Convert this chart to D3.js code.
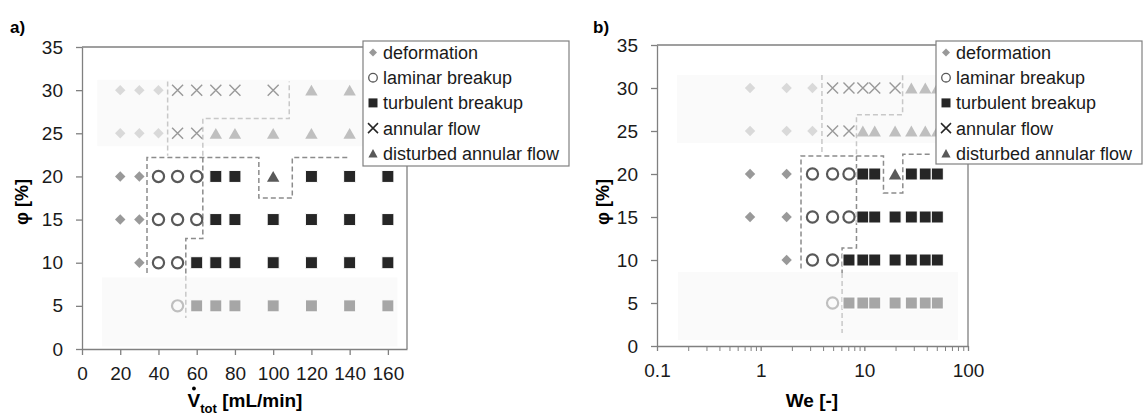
<!DOCTYPE html>
<html>
<head>
<meta charset="utf-8">
<script src="https://cdn.jsdelivr.net/npm/d3@7"></script>
<style>
body { margin: 0; background: #fff; }
svg { display: block; font-family: 'Liberation Sans', Arial, sans-serif; }
</style>
</head>
<body>
<svg id="chart" width="1143" height="419"></svg>
<script>
// flow rates [mL/min] and the matching Weber numbers, same order
var flowRates = [20, 30, 40, 50, 60, 70, 80, 100, 120, 140, 160];
var weberNumbers = [0.79, 1.78, 3.16, 4.94, 7.11, 9.68, 12.6, 19.8, 28.4, 38.7, 50.6];
var phiLevels = [30, 25, 20, 15, 10, 5];

// regime seen at each flow rate, one list per phi level
// de = deformation, lb = laminar breakup, tb = turbulent breakup,
// af = annular flow, da = disturbed annular flow
var regimes30 = ['de', 'de', 'de', 'af', 'af', 'af', 'af', 'af', 'da', 'da', 'da'];
var regimes25 = ['de', 'de', 'de', 'af', 'af', 'da', 'da', 'da', 'da', 'da', 'da'];
var regimes20 = ['de', 'de', 'lb', 'lb', 'lb', 'tb', 'tb', 'da', 'tb', 'tb', 'tb'];
var regimes15 = ['de', 'de', 'lb', 'lb', 'lb', 'tb', 'tb', 'tb', 'tb', 'tb', 'tb'];
var regimes10 = [null, 'de', 'lb', 'lb', 'tb', 'tb', 'tb', 'tb', 'tb', 'tb', 'tb'];
var regimes5 = [null, null, null, 'lb', 'tb', 'tb', 'tb', 'tb', 'tb', 'tb', 'tb'];

var legendCodes = ['de', 'lb', 'tb', 'af', 'da'];
var legendNames = ['deformation', 'laminar breakup', 'turbulent breakup', 'annular flow', 'disturbed annular flow'];

var phiTicks = [0, 5, 10, 15, 20, 25, 30, 35];
var flowTicks = [0, 20, 40, 60, 80, 100, 120, 140, 160];
var weTicks = [0.1, 1, 10, 100];
var weMinorTicks = [0.2, 0.3, 0.4, 0.5, 0.6, 0.7, 0.8, 0.9, 2, 3, 4, 5, 6, 7, 8, 9, 20, 30, 40, 50, 60, 70, 80, 90];

// regime borders drawn by hand in the original, [x, phi] in data units
var flowBordersDark = [
    [[34, 8.8], [34, 22.2], [92.5, 22.2], [92.5, 17.5], [110, 17.5], [110, 22.2], [140, 22.2]],
    [[63.2, 22.2], [63.2, 12.8], [54.3, 12.8], [54.3, 8.5]]
];
var flowBordersLight = [
    [[44.8, 31], [44.8, 22.4]],
    [[63.2, 22.4], [63.2, 26.7], [108.4, 26.7], [108.4, 31]],
    [[54.3, 8.5], [54.3, 3.6]]
];
var weBordersDark = [
    [[2.45, 9], [2.45, 22.1], [15.3, 22.1], [15.3, 17.8], [23.5, 17.8], [23.5, 22.3], [45, 22.3]],
    [[8.4, 22.1], [8.4, 11.4], [6.1, 11.4], [6.1, 8.5]]
];
var weBordersLight = [
    [[3.9, 31.5], [3.9, 22.3]],
    [[8.4, 22.3], [8.4, 26.9], [23.4, 26.9], [23.4, 31.5]],
    [[6.1, 8.5], [6.1, 1.5]]
];

// faint shaded bands behind the faded rows: [x0, x1, phi0, phi1]
var flowBands = [[8, 165, 23.5, 31.2], [10.5, 165, 0.3, 8.3]];
var weBands = [[0.156, 80, 23.6, 31.5], [0.159, 80, 0.7, 8.6]];

var svg = d3.select('#chart');

function markerPath(code, legend) {
    var s, h, w;
    if (code === 'de') {
        h = legend ? 4 : 5.2;
        return 'M0,' + (-h) + 'L' + h + ',0L0,' + h + 'L' + (-h) + ',0Z';
    }
    if (code === 'lb') {
        s = legend ? 4.3 : 5.6;
        return 'M' + s + ',0A' + s + ',' + s + ' 0 1 1 ' + (-s) + ',0A' + s + ',' + s + ' 0 1 1 ' + s + ',0Z';
    }
    if (code === 'tb') {
        s = legend ? 4.5 : 6;
        return 'M' + (-s) + ',' + (-s) + 'H' + s + 'V' + s + 'H' + (-s) + 'Z';
    }
    if (code === 'af') {
        s = legend ? 5 : 5.5;
        return 'M' + (-s) + ',' + (-s) + 'L' + s + ',' + s + 'M' + (-s) + ',' + s + 'L' + s + ',' + (-s);
    }
    w = legend ? 4.6 : 6.2;
    h = legend ? 4.2 : 5.4;
    return 'M0,' + (-h) + 'L' + w + ',' + h + 'L' + (-w) + ',' + h + 'Z';
}

function styleMarker(sel, code, phi, legend) {
    var faded = !legend && (phi >= 25 || phi === 5);
    if (code === 'de') {
        sel.attr('fill', faded ? '#d9d9d9' : '#999999').attr('stroke', 'none');
    } else if (code === 'lb') {
        sel.attr('fill', 'none').attr('stroke', faded ? '#bfbfbf' : '#595959')
            .attr('stroke-width', legend ? 1.3 : 2.2);
    } else if (code === 'tb') {
        sel.attr('fill', faded ? '#a6a6a6' : '#262626')
            .attr('stroke', legend ? 'none' : '#fff').attr('stroke-width', 1);
    } else if (code === 'af') {
        sel.attr('fill', 'none').attr('stroke', legend ? '#262626' : '#999999')
            .attr('stroke-width', legend ? 1.5 : 1.4);
    } else {
        sel.attr('fill', faded ? '#bfbfbf' : '#595959').attr('stroke', 'none');
    }
}

function drawPanel(p) {
    var g = svg.append('g');
    var x = p.x, y = p.y;
    var rows = [regimes30, regimes25, regimes20, regimes15, regimes10, regimes5];

    // shaded bands
    g.selectAll('rect.band').data(p.bands).join('rect')
        .attr('class', 'band')
        .attr('x', function(d) { return x(d[0]); })
        .attr('y', function(d) { return y(d[3]); })
        .attr('width', function(d) { return x(d[1]) - x(d[0]); })
        .attr('height', function(d) { return y(d[2]) - y(d[3]); })
        .attr('fill', '#fafafa');

    // dashed regime borders
    var line = d3.line().x(function(d) { return x(d[0]); }).y(function(d) { return y(d[1]); });
    g.selectAll('path.light').data(p.light).join('path')
        .attr('class', 'light').attr('d', line)
        .attr('fill', 'none').attr('stroke', '#c8c8c8')
        .attr('stroke-width', 1.5).attr('stroke-dasharray', '5,3');
    g.selectAll('path.dark').data(p.dark).join('path')
        .attr('class', 'dark').attr('d', line)
        .attr('fill', 'none').attr('stroke', '#8c8c8c')
        .attr('stroke-width', 1.5).attr('stroke-dasharray', '5,3');

    // markers
    var points = [];
    phiLevels.forEach(function(phi, i) {
        rows[i].forEach(function(code, j) {
            if (code) points.push({ x: p.values[j], phi: phi, code: code });
        });
    });
    g.selectAll('path.mk').data(points).join('path')
        .attr('class', 'mk')
        .attr('transform', function(d) { return 'translate(' + x(d.x) + ',' + y(d.phi) + ')'; })
        .attr('d', function(d) { return markerPath(d.code, false); })
        .each(function(d) { styleMarker(d3.select(this), d.code, d.phi, false); });

    // axes
    var yAxis = g.append('g').attr('transform', 'translate(' + x.range()[0] + ',0)')
        .call(d3.axisLeft(y).tickValues(phiTicks).tickSize(6).tickSizeOuter(0).tickPadding(13));
    var xAxis = g.append('g').attr('transform', 'translate(0,' + y.range()[0] + ')')
        .call(d3.axisBottom(x).tickValues(p.ticks).tickFormat(function(d) { return d; })
            .tickSize(p.minor ? 5 : 6).tickSizeOuter(0).tickPadding(p.minor ? 13 : 12));
    if (p.minor) {
        g.append('g').attr('transform', 'translate(0,' + y.range()[0] + ')')
            .call(d3.axisBottom(x).tickValues(p.minor).tickFormat('').tickSize(5).tickSizeOuter(0))
            .call(function(a) { a.select('.domain').remove(); a.selectAll('line').attr('stroke', '#808080'); });
    }
    [yAxis, xAxis].forEach(function(a) {
        a.attr('font-family', null).attr('font-size', 19);
        a.select('.domain').attr('stroke', '#808080').attr('stroke-width', 1.3);
        a.selectAll('.tick line').attr('stroke', '#808080').attr('stroke-width', 1.3);
        a.selectAll('.tick text').attr('fill', '#1a1a1a');
    });

    // plot border top and right
    g.append('path')
        .attr('d', 'M' + x.range()[0] + ',' + y.range()[1] + 'H' + x.range()[1] + 'V' + y.range()[0])
        .attr('fill', 'none').attr('stroke', '#808080').attr('stroke-width', 1.3);

    // legend
    var lg = g.append('g');
    lg.append('rect')
        .attr('x', p.legend[0]).attr('y', p.legend[1])
        .attr('width', p.legend[2] - p.legend[0]).attr('height', p.legend[3] - p.legend[1])
        .attr('fill', '#fff').attr('stroke', '#808080').attr('stroke-width', 1.2);
    legendCodes.forEach(function(code, i) {
        var cy = p.legend[1] + 11.5 + i * 25.2;
        lg.append('path')
            .attr('transform', 'translate(' + (p.legend[0] + 10) + ',' + cy + ')')
            .attr('d', markerPath(code, true))
            .call(styleMarker, code, 0, true);
        lg.append('text')
            .attr('x', p.legend[0] + 20).attr('y', cy + 6.5)
            .attr('font-size', 18).attr('fill', '#1a1a1a')
            .text(legendNames[i]);
    });

    // panel letter
    g.append('text').attr('x', p.letterX).attr('y', 33)
        .attr('font-size', 17).attr('font-weight', 'bold').text(p.letter);

    // y title
    g.append('text')
        .attr('transform', 'translate(' + p.yTitleX + ',202) rotate(-90)')
        .attr('text-anchor', 'middle').attr('font-size', 18).attr('font-weight', 'bold')
        .text('φ [%]');

    return g;
}

function init() {
    var ga = drawPanel({
        x: d3.scaleLinear().domain([0, 170]).range([82, 407]),
        y: d3.scaleLinear().domain([0, 35]).range([349, 47]),
        values: flowRates, ticks: flowTicks, minor: null,
        bands: flowBands, dark: flowBordersDark, light: flowBordersLight,
        legend: [363, 41, 569, 166], letter: 'a)', letterX: 10, yTitleX: 28
    });
    drawPanel({
        x: d3.scaleLog().domain([0.1, 100]).range([657, 968]),
        y: d3.scaleLinear().domain([0, 35]).range([346, 45]),
        values: weberNumbers, ticks: weTicks, minor: weMinorTicks,
        bands: weBands, dark: weBordersDark, light: weBordersLight,
        legend: [936, 41, 1142, 164], letter: 'b)', letterX: 593, yTitleX: 609
    });

    // x title of panel a with the dot over V
    var t = ga.append('text')
        .attr('x', 245).attr('y', 407).attr('text-anchor', 'middle')
        .attr('font-size', 19).attr('font-weight', 'bold');
    t.append('tspan').text('V');
    t.append('tspan').attr('font-size', 13).attr('dy', 6).text('tot');
    t.append('tspan').attr('dy', -6).text(' [mL/min]');
    var box = t.node().getBBox();
    var vw = 12.7;
    try { vw = t.node().getSubStringLength(0, 1); } catch (e) {}
    ga.append('circle').attr('cx', box.x + vw / 2).attr('cy', 388.5).attr('r', 1.9).attr('fill', '#000');

    svg.append('text')
        .attr('x', 812).attr('y', 407).attr('text-anchor', 'middle')
        .attr('font-size', 19).attr('font-weight', 'bold')
        .text('We [-]');
}

init();
</script>
</body>
</html>
